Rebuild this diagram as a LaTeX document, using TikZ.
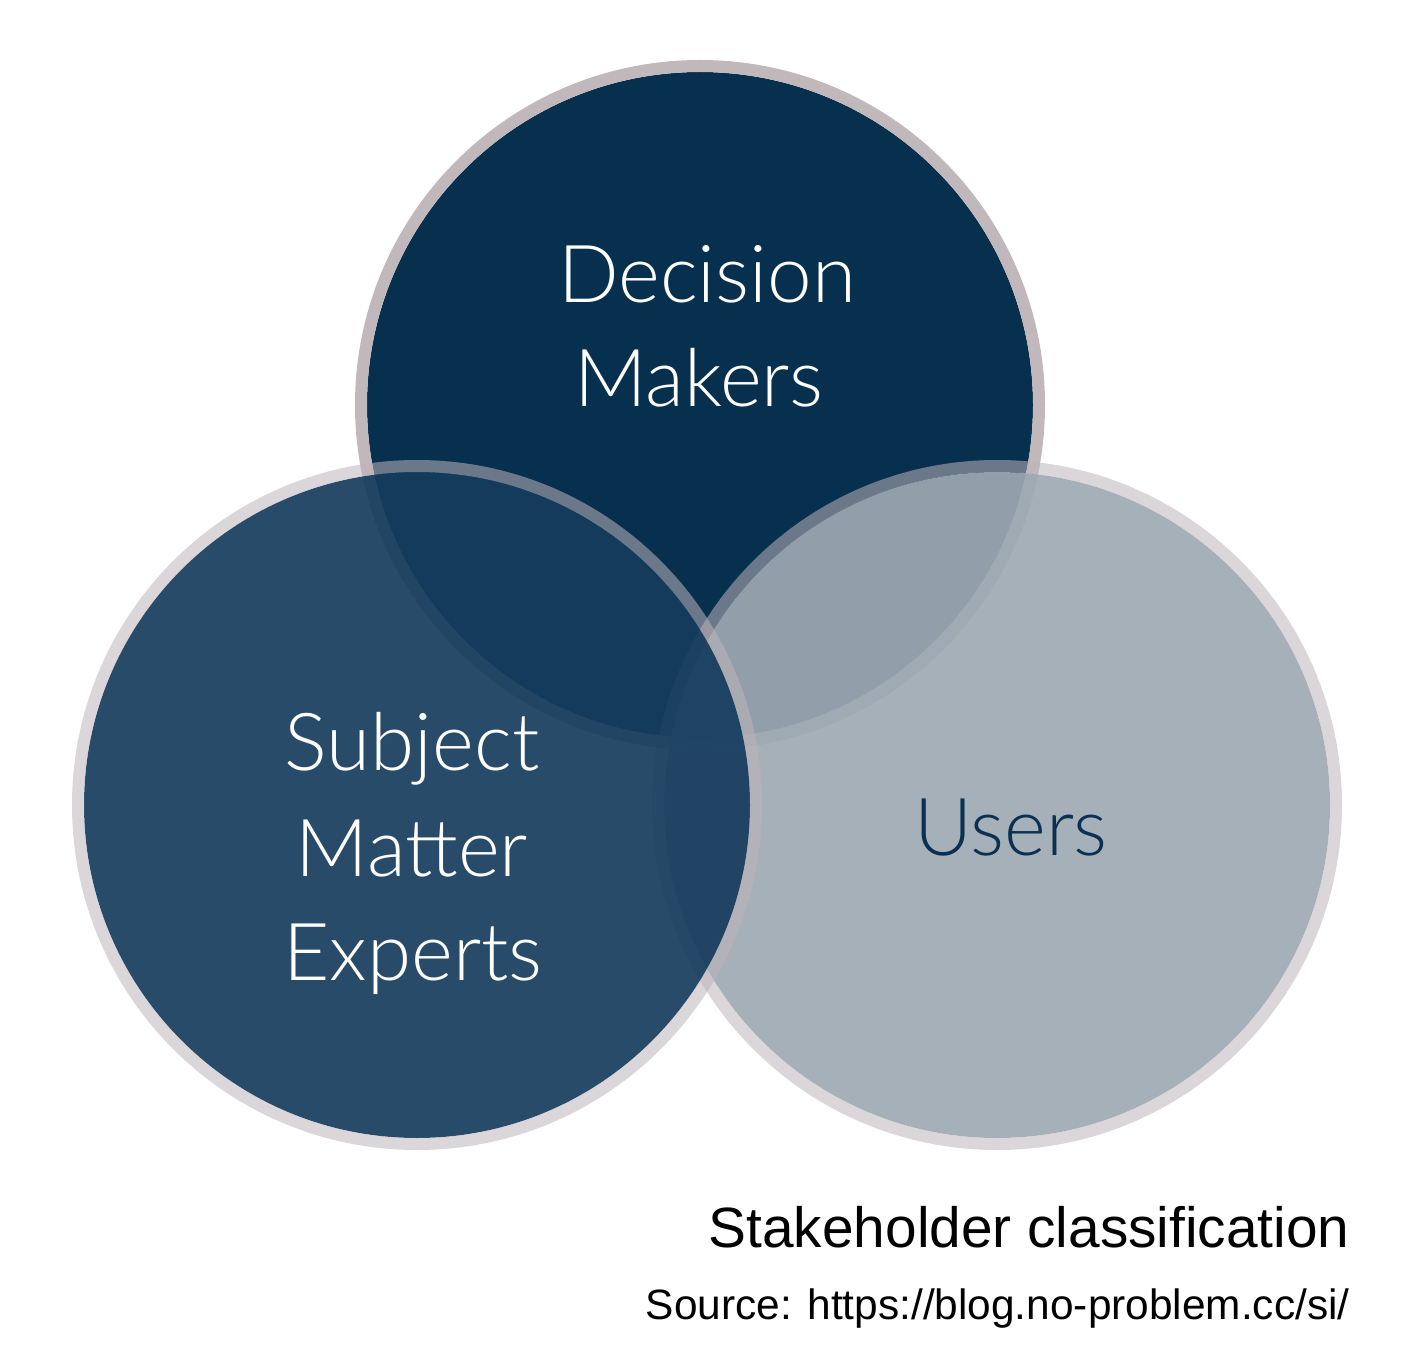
\documentclass[tikz,border=0pt]{standalone}
\usepackage{fontspec}
\newfontfamily\labelfont{Lato Light}
\newfontfamily\capfont{Liberation Sans}
\definecolor{topfill}{RGB}{7,48,79}
\definecolor{leftfill}{RGB}{22,60,93}
\definecolor{rightfill}{RGB}{158,169,179}
\definecolor{ringcol}{RGB}{190,180,185}
\definecolor{toprc}{RGB}{193,184,188}
\definecolor{userstext}{RGB}{10,49,82}
\begin{document}
\begin{tikzpicture}[x=0.5pt,y=-0.5pt,
  disc/.style={circle, minimum size=333pt, inner sep=0pt, outer sep=0pt},
  ringline/.style={line width=6pt},
  lab/.style={anchor=base, inner sep=0pt, font=\labelfont\fontsize{40pt}{48pt}\selectfont},
  captxt/.style={anchor=base east, inner sep=0pt, text=black}]
\useasboundingbox (0,0) rectangle (1414,1364);
% top circle
\node[disc, fill=topfill] (dm) at (700,405) {};
\draw[ringline, draw=toprc] (dm.center) circle[radius=169.5pt];
% right circle
\node[disc, fill=rightfill, fill opacity=0.92] (us) at (997,805) {};
\draw[ringline, draw=ringcol, draw opacity=0.55] (us.center) circle[radius=169.5pt];
% left circle
\node[disc, fill=leftfill, fill opacity=0.92] (sme) at (417,805) {};
\draw[ringline, draw=ringcol, draw opacity=0.55] (sme.center) circle[radius=169.5pt];
% labels
\node[lab, text=white] (dm1) at (707,303) {Decision};
\node[lab, text=white] (dm2) at (699,407) {Makers};
\node[lab, text=white] (s1) at (412,770) {Subject};
\node[lab, text=white] (s2) at (412,876) {Matter};
\node[lab, text=white] (s3) at (413,980) {Experts};
\node[lab, text=userstext] (u1) at (1011,855) {Users};
% captions
\node[captxt, font=\capfont\fontsize{28.4pt}{34pt}\selectfont] (t1) at (1350,1247) {Stakeholder classification};
\node[captxt, font=\capfont\fontsize{21.2pt}{26pt}\selectfont] (t2) at (1350,1319) {Source: https://blog.no-problem.cc/si/};
\end{tikzpicture}
\end{document}
